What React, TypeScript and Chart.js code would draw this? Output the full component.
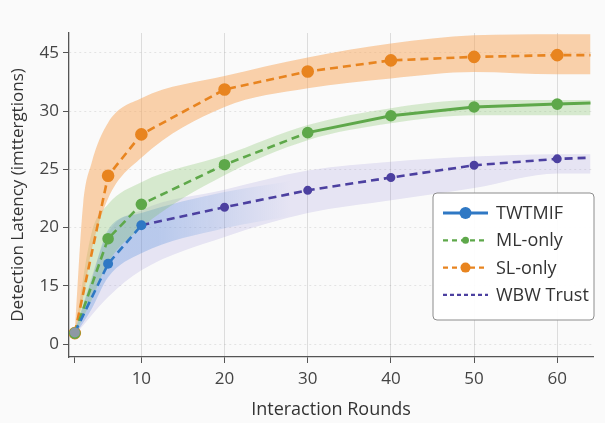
import React, { useEffect, useRef } from "react";
import { Chart, registerables } from "chart.js";

Chart.register(...registerables);

// ---- axis ticks ----
const xTickValues = [2, 10, 20, 30, 40, 50, 60];
const yTickLabels = ["0", "15", "20", "25", "30", "45"]; // evenly spaced positions 0..5

// ---- series (values in axis-position units: 0 -> "0", 1 -> "15", ... 5 -> "45") ----
const seriesNames = ["TWTMIF", "ML-only", "SL-only", "WBW Trust"];

const lineRounds = [2, 6, 10, 20, 30, 40, 50, 60, 64];
const slOnly = [0.19, 2.89, 3.6, 4.37, 4.68, 4.87, 4.93, 4.96, 4.96];
const mlOnly = [0.19, 1.81, 2.4, 3.08, 3.63, 3.92, 4.07, 4.12, 4.14];

const twtmifRounds = [2, 6, 10];
const twtmif = [0.2, 1.38, 2.04];

const wbwRounds = [10, 20, 30, 40, 50, 60, 64];
const wbwTrust = [2.04, 2.35, 2.64, 2.86, 3.07, 3.18, 3.2];

// ---- uncertainty bands ----
const slBandRounds = [2, 3, 4, 6, 10, 20, 30, 40, 50, 60, 64];
const slUpper = [0.2, 2.4, 3.1, 3.8, 4.22, 4.6, 4.92, 5.16, 5.3, 5.32, 5.32];
const slLower = [0.17, 0.8, 1.6, 2.5, 3.2, 4.07, 4.39, 4.56, 4.67, 4.63, 4.63];

const mlBandRounds = [2, 4, 6, 10, 20, 30, 40, 50, 60, 64];
const mlUpper = [0.2, 1.9, 2.4, 2.78, 3.24, 3.76, 4.05, 4.19, 4.19, 4.19];
const mlLower = [0.17, 0.75, 1.4, 2.0, 2.9, 3.5, 3.79, 3.93, 3.93, 3.93];

const twBandRounds = [2, 4, 6, 10, 20, 28];
const twUpper = [0.22, 1.1, 1.96, 2.25, 2.61, 2.8];
const twLower = [0.15, 0.6, 1.15, 1.56, 1.99, 2.2];

const wbwBandRounds = [2, 6, 10, 20, 30, 40, 50, 60, 64];
const wbwUpper = [0.22, 1.9, 2.3, 2.65, 2.98, 3.13, 3.22, 3.26, 3.26];
const wbwLower = [0.15, 0.81, 1.27, 1.84, 2.25, 2.47, 2.68, 2.93, 2.93];

const BLUE = "#2f78c4";
const GREEN = "#5ea84a";
const ORANGE = "#e8841f";
const PURPLE = "#4c40a0";
const FONT = "'Open Sans', 'Noto Sans', sans-serif";

const pts = (xs: number[], ys: number[]) => xs.map((x, i) => ({ x, y: ys[i] }));

const legendStyles = [
  { color: BLUE, dash: [] as number[], radius: 6, width: 3 },
  { color: GREEN, dash: [5, 4], radius: 3.5, width: 2.2 },
  { color: ORANGE, dash: [5, 4], radius: 5, width: 2.2 },
  { color: PURPLE, dash: [4, 3], radius: 0, width: 2.4 },
];

const legendPlugin = {
  id: "insideLegend",
  afterDraw(chart: any) {
    const { ctx, chartArea } = chart;
    const right = chartArea.right + 1;
    const w = 161;
    const h = 127;
    const top = chartArea.top + 160;
    const left = right - w;
    ctx.save();
    ctx.beginPath();
    const r = 4;
    ctx.moveTo(left + r, top);
    ctx.lineTo(left + w - r, top);
    ctx.arcTo(left + w, top, left + w, top + r, r);
    ctx.lineTo(left + w, top + h - r);
    ctx.arcTo(left + w, top + h, left + w - r, top + h, r);
    ctx.lineTo(left + r, top + h);
    ctx.arcTo(left, top + h, left, top + h - r, r);
    ctx.lineTo(left, top + r);
    ctx.arcTo(left, top, left + r, top, r);
    ctx.closePath();
    ctx.fillStyle = "rgba(255,255,255,0.92)";
    ctx.fill();
    ctx.strokeStyle = "#8c8c8c";
    ctx.lineWidth = 1;
    ctx.stroke();
    seriesNames.forEach((name, i) => {
      const st = legendStyles[i];
      const y = top + 20 + i * 27.3;
      ctx.beginPath();
      ctx.setLineDash(st.dash);
      ctx.strokeStyle = st.color;
      ctx.lineWidth = st.width;
      ctx.moveTo(left + 10, y);
      ctx.lineTo(left + 55, y);
      ctx.stroke();
      ctx.setLineDash([]);
      if (st.radius > 0) {
        ctx.beginPath();
        ctx.fillStyle = st.color;
        ctx.arc(left + 32.5, y, st.radius, 0, Math.PI * 2);
        ctx.fill();
      }
      ctx.fillStyle = "#333";
      ctx.font = `18px ${FONT}`;
      ctx.textBaseline = "middle";
      ctx.textAlign = "left";
      ctx.fillText(name, left + 63, y + 1);
    });
    ctx.restore();
  },
};

function band(xs: number[], lo: number[], hi: number[], color: any, order: number) {
  return [
    {
      label: "_lo",
      data: pts(xs, lo),
      borderWidth: 0,
      pointRadius: 0,
      fill: false,
      cubicInterpolationMode: "monotone",
      order,
    },
    {
      label: "_hi",
      data: pts(xs, hi),
      borderWidth: 0,
      pointRadius: 0,
      backgroundColor: color,
      fill: "-1",
      cubicInterpolationMode: "monotone",
      order,
    },
  ];
}

const blueFade = (c: any) => {
  const { chart } = c;
  const { ctx, chartArea, scales } = chart;
  if (!chartArea || !scales.x) return "rgba(80,140,220,0.3)";
  const x0 = scales.x.getPixelForValue(12);
  const x1 = scales.x.getPixelForValue(28);
  const g = ctx.createLinearGradient(x0, 0, x1, 0);
  g.addColorStop(0, "rgba(80,140,220,0.30)");
  g.addColorStop(1, "rgba(80,140,220,0)");
  return g;
};

export default function App() {
  const ref = useRef<HTMLCanvasElement>(null);
  useEffect(() => {
    if (!ref.current) return;
    const lastR = (arr: number[], r: number, skipFirst = false) =>
      arr.map((_, i) => (i === arr.length - 1 || (skipFirst && i === 0) ? 0 : r));
    const chart = new Chart(ref.current, {
      type: "line",
      data: {
        datasets: [
          ...band(wbwBandRounds, wbwLower, wbwUpper, "rgba(140,130,210,0.18)", 20),
          ...band(twBandRounds, twLower, twUpper, blueFade, 19),
          ...band(mlBandRounds, mlLower, mlUpper, "rgba(120,190,90,0.27)", 18),
          ...band(slBandRounds, slLower, slUpper, "rgba(248,165,90,0.50)", 17),
          {
            label: seriesNames[3],
            data: pts(wbwRounds, wbwTrust),
            borderColor: PURPLE,
            backgroundColor: PURPLE,
            borderWidth: 2.6,
            borderDash: [8, 5],
            pointRadius: lastR(wbwTrust, 3.2, true),
            tension: 0,
            order: 4,
          } as any,
          {
            label: seriesNames[2],
            data: pts(lineRounds, slOnly),
            borderColor: ORANGE,
            backgroundColor: ORANGE,
            borderWidth: 2.6,
            borderDash: [8, 5],
            pointRadius: lastR(slOnly, 5),
            tension: 0,
            order: 3,
          },
          {
            label: seriesNames[1],
            data: pts(lineRounds, mlOnly),
            borderColor: GREEN,
            backgroundColor: GREEN,
            borderWidth: 2.6,
            borderDash: [8, 5],
            segment: {
              borderDash: (c: any) => (c.p0.parsed.x >= 30 ? [] : [8, 5]),
              borderWidth: (c: any) => (c.p0.parsed.x >= 30 ? 3 : 2.6),
            },
            pointRadius: lastR(mlOnly, 4.5),
            tension: 0,
            order: 2,
          },
          {
            label: seriesNames[0],
            data: pts(twtmifRounds, twtmif),
            borderColor: BLUE,
            backgroundColor: (c: any) => (c.dataIndex === 0 ? "#8e98a4" : BLUE),
            borderWidth: 2.6,
            borderDash: [8, 5],
            pointRadius: 5,
            pointBorderWidth: 0,
            tension: 0,
            order: 1,
          },
        ] as any,
      },
      options: {
        responsive: false,
        animation: false,
        devicePixelRatio: 1,
        layout: { padding: { top: 33, right: 12, left: 0, bottom: 0 } },
        plugins: {
          legend: { display: false },
          tooltip: { enabled: false },
        },
        elements: { point: { borderWidth: 0, hoverRadius: 0 } },
        scales: {
          x: {
            type: "linear",
            min: 1.3,
            max: 64.3,
            afterBuildTicks: (s: any) => {
              s.ticks = xTickValues.map((v) => ({ value: v }));
            },
            afterFit: (s: any) => {
              s.height = 66;
            },
            ticks: {
              autoSkip: false,
              maxRotation: 0,
              padding: 6,
              color: "#444",
              font: { family: FONT, size: 17 },
              callback: (v: any) => (v === xTickValues[0] ? "" : String(v)),
            },
            grid: {
              color: (c: any) => (c.tick && c.tick.value === xTickValues[0] ? "rgba(0,0,0,0)" : "#dcdcdc"),
              tickColor: "#555",
              tickLength: 6,
              lineWidth: 1,
            },
            border: { display: true, color: "#555", width: 1.3 },
            title: {
              display: true,
              text: "Interaction Rounds",
              color: "#333",
              font: { family: FONT, size: 18 },
              padding: { top: 0, bottom: 2 },
            },
          },
          y: {
            type: "linear",
            min: -0.22,
            max: 5.34,
            afterBuildTicks: (s: any) => {
              s.ticks = yTickLabels.map((_, i) => ({ value: i }));
            },
            afterFit: (s: any) => {
              s.width = 69;
            },
            ticks: {
              padding: 4,
              color: "#444",
              font: { family: FONT, size: 17 },
              callback: (v: any) => yTickLabels[v] ?? "",
            },
            grid: {
              color: "rgba(0,0,0,0.09)",
              tickColor: "#555",
              tickLength: 6,
            },
            border: { display: true, color: "#555", width: 1.3, dash: [2, 3] },
            title: {
              display: true,
              text: "Detection Latency (imttergtions)",
              color: "#333",
              font: { family: FONT, size: 17 },
              padding: { top: 8, bottom: 0 },
            },
          },
        },
      } as any,
      plugins: [legendPlugin],
    });
    return () => chart.destroy();
  }, []);
  return (
    <div
      style={{
        position: "fixed",
        left: 0,
        top: 0,
        width: 605,
        height: 423,
        background: "#fafafa",
      }}
    >
      <canvas ref={ref} width={605} height={423} style={{ display: "block" }} />
    </div>
  );
}
